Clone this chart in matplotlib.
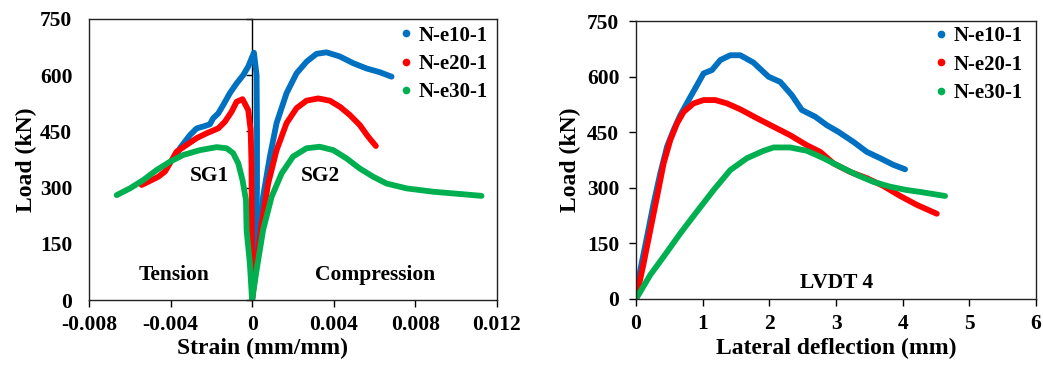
import matplotlib
matplotlib.use("Agg")
import matplotlib.pyplot as plt
from matplotlib.lines import Line2D

plt.rcParams['font.family'] = ['Liberation Serif', 'DejaVu Serif']
plt.rcParams['font.weight'] = 'bold'

# ---------------- data ----------------
series_names = ["N-e10-1", "N-e20-1", "N-e30-1"]
series_colors = ["#0070C0", "#FF0000", "#00B050"]

# Strain gauge SG1 (tension side) : strain (mm/mm), load (kN)
sg1_e10_strain = [0.0, 0.0002, 0.00024, 0.00024, 0.00022, 0.00009, -0.00019, -0.00044, -0.00076, -0.00109,
                  -0.00142, -0.00166, -0.00191, -0.00207, -0.0024, -0.00272, -0.00305, -0.00329, -0.00354, -0.00367]
sg1_e10_load = [0, 160, 300, 450, 600, 660, 623, 600, 578, 552,
                520, 498, 485, 469, 463, 458, 440, 423, 405, 392]
sg1_e20_strain = [0.0, -0.00001, -0.00003, -0.00007, -0.00019, -0.00047, -0.00076, -0.001, -0.00133, -0.00166,
                  -0.00223, -0.00272, -0.00321, -0.0037, -0.00403, -0.00427, -0.0046, -0.00493, -0.00542]
sg1_e20_load = [0, 150, 365, 454, 507, 536, 529, 503, 476, 458,
                445, 432, 414, 396, 365, 343, 329, 320, 307]
sg1_e30_strain = [0.0, -0.00011, -0.00027, -0.0003, -0.00047, -0.00068, -0.00093, -0.00125, -0.00174, -0.00256,
                  -0.00338, -0.00403, -0.00468, -0.00534, -0.00599, -0.00664]
sg1_e30_load = [0, 98, 187, 267, 320, 365, 392, 405, 408, 400,
                387, 369, 347, 320, 298, 280]

# Strain gauge SG2 (compression side)
sg2_e10_strain = [0.0, 0.0002, 0.0003, 0.00054, 0.00087, 0.0012, 0.00169, 0.00218, 0.00267, 0.00316,
                  0.00365, 0.0043, 0.00496, 0.00561, 0.00626, 0.00684]
sg2_e10_load = [0, 110, 169, 276, 382, 472, 552, 605, 636, 657,
                661, 650, 632, 618, 608, 596]
sg2_e20_strain = [0.0, 0.00022, 0.00047, 0.00079, 0.0012, 0.00169, 0.00218, 0.00267, 0.00324, 0.00381,
                  0.0043, 0.00479, 0.00528, 0.00569, 0.00607]
sg2_e20_load = [0, 98, 205, 311, 400, 472, 512, 532, 538, 532,
                516, 494, 467, 436, 411]
sg2_e30_strain = [0.0, 0.00022, 0.00054, 0.00096, 0.00145, 0.00201, 0.00267, 0.00332, 0.00398, 0.00463,
                  0.00528, 0.00594, 0.00659, 0.00757, 0.00888, 0.01019, 0.01125]
sg2_e30_load = [0, 80, 187, 276, 338, 383, 405, 409, 400, 378,
                351, 329, 311, 298, 289, 283, 278]

# LVDT 4 : lateral deflection (mm), load (kN)
lv_e10_defl = [0.0, 0.064, 0.165, 0.264, 0.364, 0.465, 0.564, 0.664, 0.789, 0.914, 1.014, 1.139, 1.264, 1.414,
               1.564, 1.763, 1.988, 2.163, 2.338, 2.488, 2.688, 2.863, 3.037, 3.262, 3.462, 3.662, 3.861, 4.036]
lv_e10_load = [0, 78, 168, 258, 339, 411, 456, 496, 537, 577, 609, 618, 645, 658,
               658, 638, 600, 586, 550, 510, 492, 469, 451, 424, 397, 380, 362, 350]
lv_e20_defl = [0.0, 0.114, 0.214, 0.315, 0.414, 0.514, 0.615, 0.714, 0.864, 1.014, 1.189, 1.364, 1.564,
               1.814, 2.063, 2.313, 2.563, 2.763, 2.962, 3.212, 3.462, 3.711, 3.962, 4.212, 4.512]
lv_e20_load = [0, 96, 186, 276, 366, 429, 474, 505, 528, 537, 537, 528, 512,
               488, 465, 442, 415, 397, 366, 343, 326, 305, 278, 254, 230]
lv_e30_defl = [0.0, 0.214, 0.414, 0.664, 0.914, 1.164, 1.414, 1.664, 1.913, 2.063, 2.313, 2.563, 2.812,
               3.062, 3.312, 3.562, 3.812, 4.062, 4.26, 4.636]
lv_e30_load = [0, 65, 114, 177, 236, 294, 348, 380, 400, 409, 409, 400, 380,
               357, 335, 316, 303, 294, 289, 278]

strain_ticks = [-0.008, -0.004, 0.0, 0.004, 0.008, 0.012]
strain_tick_labels = ["-0.008", "-0.004", "0", "0.004", "0.008", "0.012"]
defl_ticks = [0, 1, 2, 3, 4, 5, 6]
load_ticks = [0, 150, 300, 450, 600, 750]

# ---------------- figure ----------------
fig = plt.figure(figsize=(10.43, 3.65), dpi=100)
ax1 = fig.add_axes([0.0853, 0.178, 0.391, 0.770])
ax2 = fig.add_axes([0.6098, 0.181, 0.3835, 0.761])

LW = 4.2
TICK_FS = 15.5
LABEL_FS = 17
LEG_FS = 15
ANN_FS = 15.5

sg1 = [(sg1_e10_strain, sg1_e10_load), (sg1_e20_strain, sg1_e20_load), (sg1_e30_strain, sg1_e30_load)]
sg2 = [(sg2_e10_strain, sg2_e10_load), (sg2_e20_strain, sg2_e20_load), (sg2_e30_strain, sg2_e30_load)]
for (x1, y1), (x2, y2), c in zip(sg1, sg2, series_colors):
    ax1.plot(x1, y1, color=c, lw=LW, solid_capstyle='round', solid_joinstyle='round')
    ax1.plot(x2, y2, color=c, lw=LW, solid_capstyle='round', solid_joinstyle='round')

ax1.set_xlim(-0.008, 0.012)
ax1.set_ylim(0, 750)
ax1.set_xticks(strain_ticks)
ax1.set_xticklabels(strain_tick_labels)
ax1.set_yticks(load_ticks)
ax1.tick_params(axis='y', length=0, pad=12, labelsize=TICK_FS)
ax1.tick_params(axis='x', direction='out', length=5, width=1, pad=5.5, labelsize=TICK_FS)
# vertical axis crossing at zero strain
sec = ax1.secondary_yaxis(0.4)
sec.set_yticks(load_ticks)
sec.set_yticklabels([])
sec.tick_params(direction='out', length=4, width=1)
sec.spines['left'].set_linewidth(1)

ax1.set_xlabel("Strain (mm/mm)", fontsize=LABEL_FS, fontweight='bold')
ax1.xaxis.set_label_coords(0.426, -0.135)
ax1.set_ylabel("Load (kN)", fontsize=LABEL_FS, fontweight='bold', labelpad=2)
ax1.text(-0.00207, 332, "SG1", fontsize=ANN_FS, fontweight='bold', ha='center', va='center')
ax1.text(0.00336, 332, "SG2", fontsize=ANN_FS, fontweight='bold', ha='center', va='center')
ax1.text(-0.00383, 66, "Tension", fontsize=ANN_FS, fontweight='bold', ha='center', va='center')
ax1.text(0.00605, 66, "Compression", fontsize=ANN_FS, fontweight='bold', ha='center', va='center')

lv = [(lv_e10_defl, lv_e10_load), (lv_e20_defl, lv_e20_load), (lv_e30_defl, lv_e30_load)]
for (x, y), c in zip(lv, series_colors):
    ax2.plot(x, y, color=c, lw=LW, solid_capstyle='round', solid_joinstyle='round')

ax2.set_xlim(0, 6)
ax2.set_ylim(0, 750)
ax2.set_xticks(defl_ticks)
ax2.set_yticks(load_ticks)
ax2.tick_params(direction='out', length=5, width=1, labelsize=TICK_FS)
ax2.tick_params(axis='x', pad=5.5)
ax2.tick_params(axis='y', pad=7)
ax2.set_xlabel("Lateral deflection (mm)", fontsize=LABEL_FS, fontweight='bold')
ax2.xaxis.set_label_coords(0.5, -0.14)
ax2.set_ylabel("Load (kN)", fontsize=LABEL_FS, fontweight='bold', labelpad=4)
ax2.text(3.01, 42, "LVDT 4", fontsize=ANN_FS, fontweight='bold', ha='center', va='center')

for ax, anchor in ((ax1, (0.99, 0.995)), (ax2, (0.98, 1.0))):
    for s in ax.spines.values():
        s.set_linewidth(1)
        s.set_color('#222222')
    handles = [Line2D([], [], ls='none', marker='o', ms=4.5, color=c) for c in series_colors]
    ax.legend(handles, series_names, loc='upper right', bbox_to_anchor=anchor, frameon=False,
              handlelength=0.5, handletextpad=0.35, labelspacing=0.4,
              borderaxespad=0.15, borderpad=0.1, prop={'weight': 'bold', 'size': LEG_FS})

fig.savefig("out.png", dpi=100)
